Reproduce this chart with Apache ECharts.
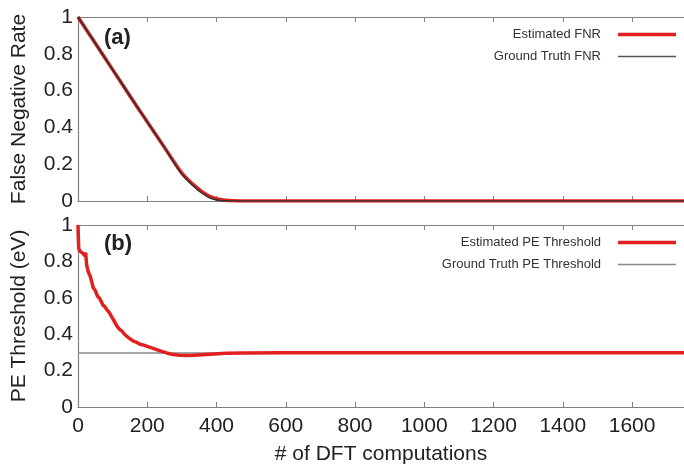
<!DOCTYPE html>
<html><head><meta charset="utf-8">
<script src="https://cdn.jsdelivr.net/npm/echarts@6/dist/echarts.min.js"></script>
<style>html,body{margin:0;padding:0;background:#fff}#c{width:684px;height:466px}</style>
</head><body><div id="c"></div>
<script>
var xTicks = [0, 200, 400, 600, 800, 1000, 1200, 1400, 1600];
var yTicks = [0, 0.2, 0.4, 0.6, 0.8, 1];
var xMax = 1750;

var fnrEstX = [0, 50, 100, 150, 200, 250, 280, 300, 320, 340, 360, 380, 400, 420, 450, 500, 1750];
var fnrEstY = [1, 0.857, 0.714, 0.571, 0.43, 0.29, 0.205, 0.152, 0.112, 0.078, 0.048, 0.026, 0.012, 0.005, 0.001, 0, 0];
var fnrGtX = [0, 50, 100, 150, 200, 250, 280, 300, 320, 340, 360, 380, 400, 420, 500, 1750];
var fnrGtY = [1, 0.857, 0.714, 0.571, 0.43, 0.29, 0.2, 0.145, 0.105, 0.07, 0.04, 0.018, 0.006, 0.001, 0, 0];

var peEstX = [0, 1, 2, 6, 10, 14, 18, 20, 22, 25, 30, 35, 40, 44, 50, 56, 63, 68, 72, 78, 83, 90, 96, 102, 108, 114, 121, 128, 134, 140, 150, 160, 170, 179, 190, 200, 217, 235, 256, 275, 294, 315, 333, 360, 381, 405, 429, 480, 600, 1750];
var peEstY = [1, 0.93, 0.87, 0.855, 0.86, 0.845, 0.85, 0.83, 0.85, 0.78, 0.74, 0.72, 0.685, 0.655, 0.64, 0.61, 0.595, 0.585, 0.56, 0.55, 0.535, 0.52, 0.5, 0.48, 0.46, 0.44, 0.425, 0.415, 0.4, 0.39, 0.375, 0.362, 0.355, 0.345, 0.34, 0.333, 0.322, 0.31, 0.297, 0.288, 0.284, 0.283, 0.284, 0.287, 0.29, 0.293, 0.296, 0.297, 0.298, 0.298];
var peGtX = [0, 1750];
var peGtY = [0.297, 0.297];

function pairs(xs, ys) { return xs.map(function (x, i) { return [x, ys[i]]; }); }

var axisColor = '#808080';
var labelColor = '#222';
var font = 'Liberation Sans, Arial, sans-serif';
var red = '#e21f1f';

function xAxis(gridIndex, pos, showLabels, name) {
  return {
    type: 'value', gridIndex: gridIndex, position: pos, min: 0, max: xMax, interval: 200,
    axisLine: { show: true, onZero: false, lineStyle: { color: axisColor, width: 1.2 } },
    axisTick: { show: true, inside: true, length: 5, lineStyle: { color: axisColor } },
    axisLabel: { show: showLabels, color: labelColor, fontSize: 21, fontFamily: font, margin: 9, showMaxLabel: false,
      formatter: function (v) { return String(v); } },
    splitLine: { show: false },
    name: name || '', nameLocation: 'middle', nameGap: 37,
    nameTextStyle: { color: labelColor, fontSize: 21, fontFamily: font }
  };
}
function yAxis(gridIndex, name) {
  return {
    type: 'value', gridIndex: gridIndex, min: 0, max: 1, interval: 0.2,
    axisLine: { show: true, lineStyle: { color: axisColor, width: 1.2 } },
    axisTick: { show: false },
    axisLabel: { color: labelColor, fontSize: 21, fontFamily: font, margin: 5,
      formatter: function (v) { return String(Math.round(v * 10) / 10); } },
    splitLine: { show: false },
    name: name, nameLocation: 'middle', nameGap: 48,
    nameTextStyle: { color: labelColor, fontSize: 21, fontFamily: font }
  };
}
function legend(top, name, h) {
  return { orient: 'vertical', right: 3, top: top, align: 'right', icon: 'rect', itemWidth: 58, itemHeight: h,
    textStyle: { color: '#333', fontSize: 13, fontFamily: font, padding: [0, 12, 0, 0] },
    data: [name] };
}

var chart = echarts.init(document.getElementById('c'), null, { renderer: 'canvas' });
chart.setOption({
  animation: false,
  backgroundColor: '#fff',
  grid: [
    { left: 78, top: 17, right: 0, height: 184 },
    { left: 78, top: 225, right: 0, height: 182 }
  ],
  xAxis: [
    xAxis(0, 'bottom', false),
    xAxis(0, 'top', false),
    xAxis(1, 'bottom', true, '# of DFT computations'),
    xAxis(1, 'top', false)
  ],
  yAxis: [yAxis(0, 'False Negative Rate'), yAxis(1, 'PE Threshold (eV)')],
  legend: [
    legend(23, 'Estimated FNR', 3.5),
    legend(45, 'Ground Truth FNR', 1.5),
    legend(231, 'Estimated PE Threshold', 3.5),
    legend(253, 'Ground Truth PE Threshold', 1.5)
  ],
  graphic: [
    { type: 'text', left: 104, top: 27, style: { text: '(a)', fontSize: 22, fontWeight: 'bold', fontFamily: font, fill: '#222' } },
    { type: 'text', left: 104, top: 233, style: { text: '(b)', fontSize: 22, fontWeight: 'bold', fontFamily: font, fill: '#222' } }
  ],
  series: [
    { name: 'Estimated FNR', type: 'line', xAxisIndex: 0, yAxisIndex: 0, symbol: 'none', smooth: 0.3,
      data: pairs(fnrEstX, fnrEstY), lineStyle: { color: red, width: 3.5 }, itemStyle: { color: red } },
    { name: 'Ground Truth FNR', type: 'line', xAxisIndex: 0, yAxisIndex: 0, symbol: 'none', smooth: 0.3,
      data: pairs(fnrGtX, fnrGtY), lineStyle: { color: '#333', width: 1.6 }, itemStyle: { color: '#555' } },
    { name: 'Estimated PE Threshold', type: 'line', xAxisIndex: 2, yAxisIndex: 1, symbol: 'none',
      data: pairs(peEstX, peEstY), lineStyle: { color: red, width: 3.5 }, itemStyle: { color: red }, z: 3 },
    { name: 'Ground Truth PE Threshold', type: 'line', xAxisIndex: 2, yAxisIndex: 1, symbol: 'none',
      data: pairs(peGtX, peGtY), lineStyle: { color: '#888', width: 1.4 }, itemStyle: { color: '#888' }, z: 2 }
  ]
});
</script></body></html>
